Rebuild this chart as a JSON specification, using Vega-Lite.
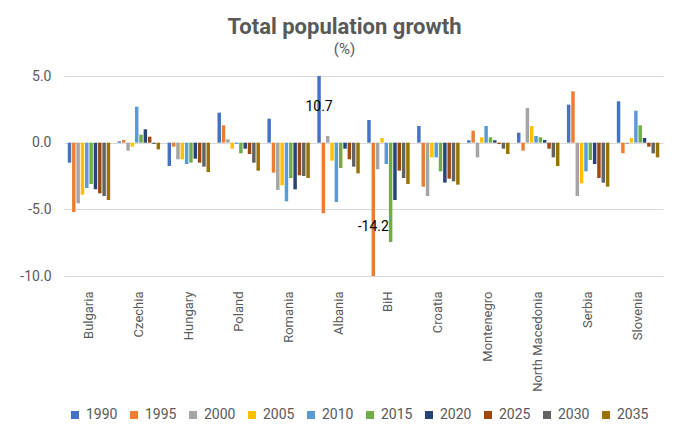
{
  "$schema": "https://vega.github.io/schema/vega-lite/v6.json",
  "width": 599,
  "height": 200,
  "autosize": {"type": "none"},
  "padding": {"left": 64, "top": 76, "right": 13, "bottom": 160},
  "background": "white",
  "title": {
    "text": "Total population growth",
    "subtitle": "(%)",
    "anchor": "middle",
    "dx": -19,
    "offset": 11,
    "font": "Roboto",
    "fontSize": 22,
    "fontWeight": "bold",
    "color": "#595959",
    "subtitleFont": "Roboto",
    "subtitleFontSize": 15,
    "subtitleColor": "#595959",
    "subtitlePadding": 3
  },
  "config": {"view": {"stroke": null}},
  "data": {
    "values": [
      {"country": "Bulgaria", "year": "1990", "value": -1.5},
      {"country": "Bulgaria", "year": "1995", "value": -5.2},
      {"country": "Bulgaria", "year": "2000", "value": -4.55},
      {"country": "Bulgaria", "year": "2005", "value": -3.9},
      {"country": "Bulgaria", "year": "2010", "value": -3.4},
      {"country": "Bulgaria", "year": "2015", "value": -3.1},
      {"country": "Bulgaria", "year": "2020", "value": -3.5},
      {"country": "Bulgaria", "year": "2025", "value": -3.8},
      {"country": "Bulgaria", "year": "2030", "value": -4.0},
      {"country": "Bulgaria", "year": "2035", "value": -4.3},
      {"country": "Czechia", "year": "1990", "value": 0.1},
      {"country": "Czechia", "year": "1995", "value": 0.2},
      {"country": "Czechia", "year": "2000", "value": -0.6},
      {"country": "Czechia", "year": "2005", "value": -0.3},
      {"country": "Czechia", "year": "2010", "value": 2.7},
      {"country": "Czechia", "year": "2015", "value": 0.6},
      {"country": "Czechia", "year": "2020", "value": 1.0},
      {"country": "Czechia", "year": "2025", "value": 0.45},
      {"country": "Czechia", "year": "2030", "value": -0.1},
      {"country": "Czechia", "year": "2035", "value": -0.5},
      {"country": "Hungary", "year": "1990", "value": -1.75},
      {"country": "Hungary", "year": "1995", "value": -0.3},
      {"country": "Hungary", "year": "2000", "value": -1.25},
      {"country": "Hungary", "year": "2005", "value": -1.25},
      {"country": "Hungary", "year": "2010", "value": -1.6},
      {"country": "Hungary", "year": "2015", "value": -1.5},
      {"country": "Hungary", "year": "2020", "value": -1.2},
      {"country": "Hungary", "year": "2025", "value": -1.5},
      {"country": "Hungary", "year": "2030", "value": -1.8},
      {"country": "Hungary", "year": "2035", "value": -2.2},
      {"country": "Poland", "year": "1990", "value": 2.25},
      {"country": "Poland", "year": "1995", "value": 1.3},
      {"country": "Poland", "year": "2000", "value": 0.25},
      {"country": "Poland", "year": "2005", "value": -0.45},
      {"country": "Poland", "year": "2010", "value": -0.1},
      {"country": "Poland", "year": "2015", "value": -0.8},
      {"country": "Poland", "year": "2020", "value": -0.45},
      {"country": "Poland", "year": "2025", "value": -0.85},
      {"country": "Poland", "year": "2030", "value": -1.5},
      {"country": "Poland", "year": "2035", "value": -2.1},
      {"country": "Romania", "year": "1990", "value": 1.8},
      {"country": "Romania", "year": "1995", "value": -2.25},
      {"country": "Romania", "year": "2000", "value": -3.55},
      {"country": "Romania", "year": "2005", "value": -3.2},
      {"country": "Romania", "year": "2010", "value": -4.4},
      {"country": "Romania", "year": "2015", "value": -2.65},
      {"country": "Romania", "year": "2020", "value": -3.5},
      {"country": "Romania", "year": "2025", "value": -2.45},
      {"country": "Romania", "year": "2030", "value": -2.5},
      {"country": "Romania", "year": "2035", "value": -2.65},
      {"country": "Albania", "year": "1990", "value": 10.7},
      {"country": "Albania", "year": "1995", "value": -5.3},
      {"country": "Albania", "year": "2000", "value": 0.5},
      {"country": "Albania", "year": "2005", "value": -1.35},
      {"country": "Albania", "year": "2010", "value": -4.45},
      {"country": "Albania", "year": "2015", "value": -1.9},
      {"country": "Albania", "year": "2020", "value": -0.45},
      {"country": "Albania", "year": "2025", "value": -1.25},
      {"country": "Albania", "year": "2030", "value": -1.8},
      {"country": "Albania", "year": "2035", "value": -2.3},
      {"country": "BiH", "year": "1990", "value": 1.7},
      {"country": "BiH", "year": "1995", "value": -14.2},
      {"country": "BiH", "year": "2000", "value": -2.0},
      {"country": "BiH", "year": "2005", "value": 0.35},
      {"country": "BiH", "year": "2010", "value": -1.6},
      {"country": "BiH", "year": "2015", "value": -7.45},
      {"country": "BiH", "year": "2020", "value": -4.3},
      {"country": "BiH", "year": "2025", "value": -2.1},
      {"country": "BiH", "year": "2030", "value": -2.65},
      {"country": "BiH", "year": "2035", "value": -3.1},
      {"country": "Croatia", "year": "1990", "value": 1.25},
      {"country": "Croatia", "year": "1995", "value": -3.3},
      {"country": "Croatia", "year": "2000", "value": -4.0},
      {"country": "Croatia", "year": "2005", "value": -1.1},
      {"country": "Croatia", "year": "2010", "value": -1.1},
      {"country": "Croatia", "year": "2015", "value": -2.15},
      {"country": "Croatia", "year": "2020", "value": -3.0},
      {"country": "Croatia", "year": "2025", "value": -2.7},
      {"country": "Croatia", "year": "2030", "value": -2.9},
      {"country": "Croatia", "year": "2035", "value": -3.15},
      {"country": "Montenegro", "year": "1990", "value": 0.18},
      {"country": "Montenegro", "year": "1995", "value": 0.9},
      {"country": "Montenegro", "year": "2000", "value": -1.1},
      {"country": "Montenegro", "year": "2005", "value": 0.4},
      {"country": "Montenegro", "year": "2010", "value": 1.25},
      {"country": "Montenegro", "year": "2015", "value": 0.4},
      {"country": "Montenegro", "year": "2020", "value": 0.18},
      {"country": "Montenegro", "year": "2025", "value": -0.1},
      {"country": "Montenegro", "year": "2030", "value": -0.45},
      {"country": "Montenegro", "year": "2035", "value": -0.85},
      {"country": "North Macedonia", "year": "1990", "value": 0.75},
      {"country": "North Macedonia", "year": "1995", "value": -0.6},
      {"country": "North Macedonia", "year": "2000", "value": 2.6},
      {"country": "North Macedonia", "year": "2005", "value": 1.25},
      {"country": "North Macedonia", "year": "2010", "value": 0.5},
      {"country": "North Macedonia", "year": "2015", "value": 0.4},
      {"country": "North Macedonia", "year": "2020", "value": 0.2},
      {"country": "North Macedonia", "year": "2025", "value": -0.45},
      {"country": "North Macedonia", "year": "2030", "value": -1.1},
      {"country": "North Macedonia", "year": "2035", "value": -1.75},
      {"country": "Serbia", "year": "1990", "value": 2.85},
      {"country": "Serbia", "year": "1995", "value": 3.85},
      {"country": "Serbia", "year": "2000", "value": -4.0},
      {"country": "Serbia", "year": "2005", "value": -3.05},
      {"country": "Serbia", "year": "2010", "value": -2.15},
      {"country": "Serbia", "year": "2015", "value": -1.3},
      {"country": "Serbia", "year": "2020", "value": -1.6},
      {"country": "Serbia", "year": "2025", "value": -2.65},
      {"country": "Serbia", "year": "2030", "value": -3.0},
      {"country": "Serbia", "year": "2035", "value": -3.3},
      {"country": "Slovenia", "year": "1990", "value": 3.1},
      {"country": "Slovenia", "year": "1995", "value": -0.8},
      {"country": "Slovenia", "year": "2000", "value": -0.1},
      {"country": "Slovenia", "year": "2005", "value": 0.35},
      {"country": "Slovenia", "year": "2010", "value": 2.4},
      {"country": "Slovenia", "year": "2015", "value": 1.3},
      {"country": "Slovenia", "year": "2020", "value": 0.35},
      {"country": "Slovenia", "year": "2025", "value": -0.3},
      {"country": "Slovenia", "year": "2030", "value": -0.8},
      {"country": "Slovenia", "year": "2035", "value": -1.1}
    ]
  },
  "encoding": {
    "x": {
      "field": "country",
      "type": "nominal",
      "sort": null,
      "scale": {"paddingInner": 0.15, "paddingOuter": 0.075},
      "axis": {
        "title": null,
        "orient": "bottom",
        "domain": false,
        "ticks": false,
        "labelAngle": -90,
        "labelFont": "Roboto",
        "labelFontSize": 13,
        "labelColor": "#595959",
        "labelPadding": 15
      }
    },
    "xOffset": {
      "field": "year",
      "type": "nominal",
      "sort": null,
      "scale": {"paddingInner": 0.2}
    }
  },
  "layer": [
    {
      "mark": {"type": "bar"},
      "encoding": {
        "y": {
          "field": "value",
          "type": "quantitative",
          "scale": {"domain": [-10, 5], "clamp": true, "nice": false, "zero": true},
          "axis": {
            "title": null,
            "values": [-10, -5, 0, 5],
            "labelExpr": "datum.value < 0 ? '-' + format(-datum.value, '.1f') : format(datum.value, '.1f')",
            "domain": false,
            "ticks": false,
            "grid": true,
            "gridColor": "#d9d9d9",
            "gridWidth": 1,
            "labelFont": "Roboto",
            "labelFontSize": 14,
            "labelColor": "#595959",
            "labelPadding": 13
          }
        },
        "color": {
          "field": "year",
          "type": "nominal",
          "sort": null,
          "scale": {
            "domain": ["1990", "1995", "2000", "2005", "2010", "2015", "2020", "2025", "2030", "2035"],
            "range": ["#4472C4", "#ED7D31", "#A5A5A5", "#FFC000", "#5B9BD5", "#70AD47", "#264478", "#9E480E", "#636363", "#997300"]
          },
          "legend": {
            "title": null,
            "orient": "none",
            "legendX": 4,
            "legendY": 332,
            "direction": "horizontal",
            "columns": 10,
            "padding": 0,
            "symbolType": "square",
            "symbolSize": 64,
            "symbolStrokeWidth": 0,
            "labelFont": "Roboto",
            "labelFontSize": 14,
            "labelColor": "#595959",
            "labelOffset": 4,
            "columnPadding": 9
          }
        }
      }
    },
    {
      "transform": [
        {"filter": "abs(datum.value) > 10"},
        {"calculate": "datum.value > 0 ? 2.7 : -6.3", "as": "labelY"},
        {"calculate": "datum.value < 0 ? '-' + format(-datum.value, '.1f') : format(datum.value, '.1f')", "as": "label"}
      ],
      "mark": {"type": "text", "font": "Roboto", "fontSize": 14, "color": "#000000", "align": "center", "baseline": "middle"},
      "encoding": {
        "y": {"field": "labelY", "type": "quantitative"},
        "text": {"field": "label", "type": "nominal"}
      }
    }
  ]
}
